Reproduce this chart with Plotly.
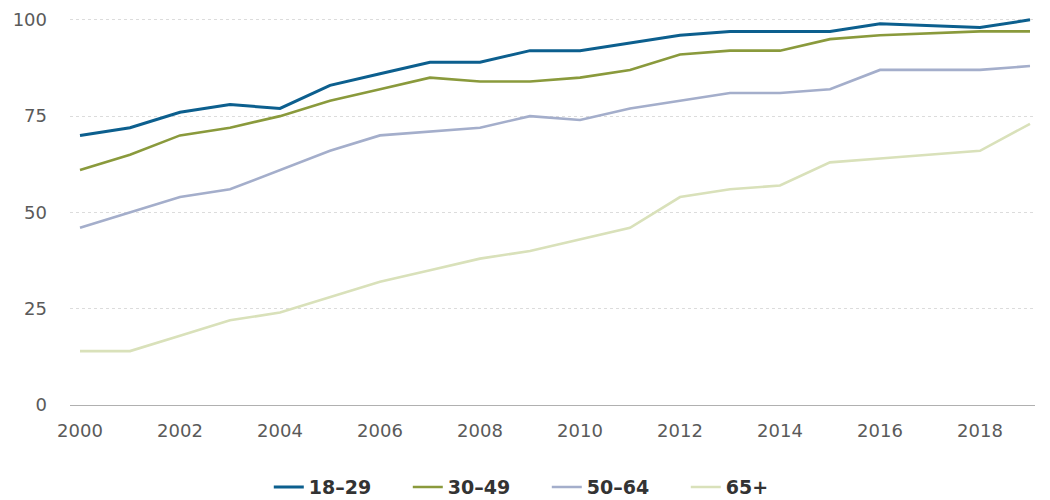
import plotly.graph_objects as go

years = [2000, 2001, 2002, 2003, 2004, 2005, 2006, 2007, 2008, 2009,
         2010, 2011, 2012, 2013, 2014, 2015, 2016, 2018, 2019]
age_18_29 = [70, 72, 76, 78, 77, 83, 86, 89, 89, 92, 92, 94, 96, 97, 97, 97, 99, 98, 100]
age_30_49 = [61, 65, 70, 72, 75, 79, 82, 85, 84, 84, 85, 87, 91, 92, 92, 95, 96, 97, 97]
age_50_64 = [46, 50, 54, 56, 61, 66, 70, 71, 72, 75, 74, 77, 79, 81, 81, 82, 87, 87, 88]
age_65p = [14, 14, 18, 22, 24, 28, 32, 35, 38, 40, 43, 46, 54, 56, 57, 63, 64, 66, 73]

series_names = ["18–29", "30–49", "50–64", "65+"]
series_values = [age_18_29, age_30_49, age_50_64, age_65p]
colors = ["#0c5f8e", "#8a9a3c", "#a4aecb", "#d9e1ba"]
widths = [3, 2.6, 2.6, 2.6]

x_ticks = [2000, 2002, 2004, 2006, 2008, 2010, 2012, 2014, 2016, 2018]
y_ticks = [0, 25, 50, 75, 100]

fig = go.Figure()
for name, vals, c, w in zip(series_names, series_values, colors, widths):
    fig.add_trace(go.Scatter(x=years, y=vals, name=name, mode="lines",
                             line=dict(color=c, width=w)))

# page body has an 8px margin, so the figure is 8px smaller and offsets shrink by 8
fig.update_layout(
    width=1042, height=492,
    margin=dict(l=62, r=15, t=8, b=95, autoexpand=False),
    plot_bgcolor="white", paper_bgcolor="white",
    font=dict(family="DejaVu Sans", color="#555555", size=18),
    legend=dict(orientation="h", x=0.206, xanchor="left", y=-0.211, yanchor="middle",
                font=dict(family="DejaVu Sans", size=19, color="#333333", weight="bold"),
                traceorder="normal", itemwidth=30, entrywidth=94),
    showlegend=True,
)
fig.update_xaxes(range=[1999.8, 2019.1], tickvals=x_ticks, showgrid=False,
                 zeroline=False, showline=False, ticks="", automargin=False,
                 ticklabelstandoff=13,
                 tickfont=dict(size=18, color="#5a5a5a"))
fig.update_yaxes(range=[0, 101], tickvals=y_ticks, showgrid=True,
                 gridcolor="#dcdcdc", griddash="dot", gridwidth=1,
                 zeroline=True, zerolinecolor="#b0b0b0", zerolinewidth=1.2,
                 ticks="", ticklabelstandoff=22, automargin=False,
                 tickfont=dict(size=18, color="#5a5a5a"))

fig.write_html("out.html")
